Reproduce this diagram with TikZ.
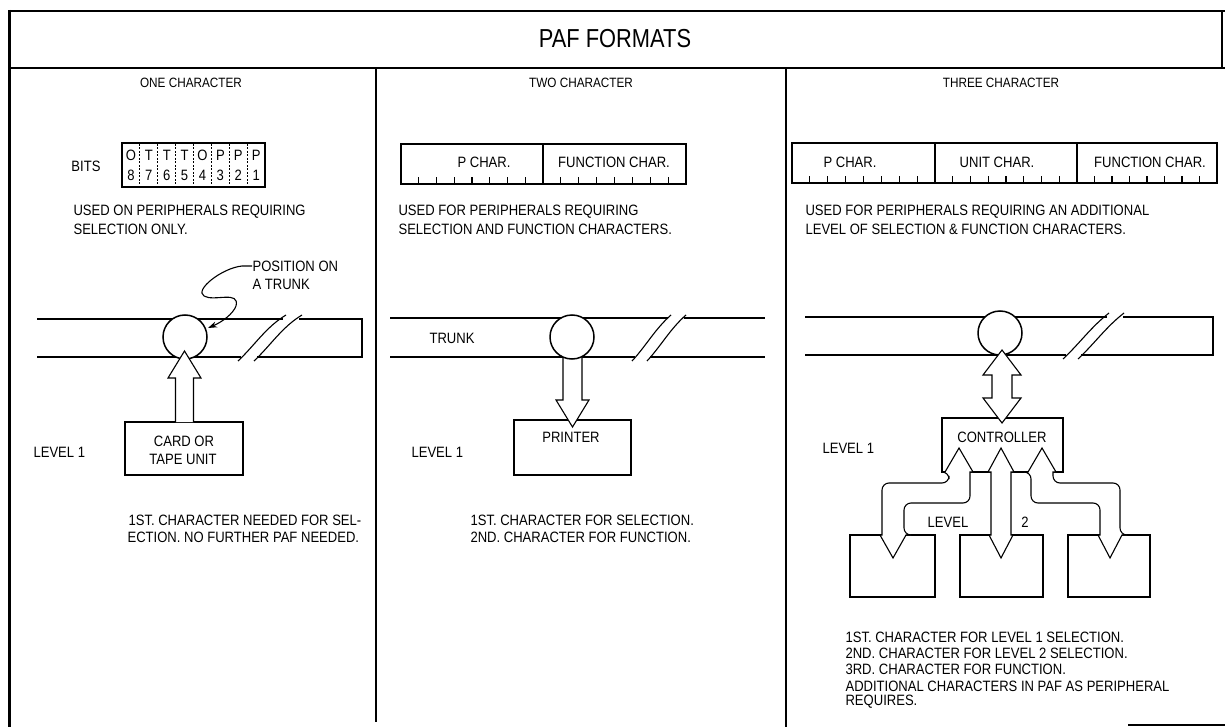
\documentclass[tikz,border=0pt]{standalone}
\usepackage{fontspec}
\setmainfont{Liberation Sans}[FakeStretch=0.87]
\newfontfamily\titlefont{Liberation Sans}[FakeStretch=0.84]
\usetikzlibrary{arrows.meta}
\begin{document}
\begin{tikzpicture}[x=1pt,y=-1pt,line width=1.1pt,
  body/.style={font=\fontsize{15}{17}\selectfont,inner sep=0pt},
  bodyw/.style={body,anchor=west},
  head/.style={font=\fontsize{13.5}{15}\selectfont,inner sep=0pt},
  bit/.style={font=\fontsize{15}{16}\selectfont,inner sep=0pt},
  ring/.style={circle,draw,fill=white,line width=1.5pt,minimum size=44pt,inner sep=0pt},
  blk/.style={draw,fill=white,line width=1.1pt},
  divd/.style={line width=0.9pt,dash pattern=on 2pt off 1.5pt},
  brk/.style={line width=1.1pt}
]
\useasboundingbox (0,0) rectangle (1225,727);
% ---------- frame ----------
\draw[line width=3pt] (9,10) -- (9,727);
\draw[line width=2pt] (8,11) -- (1225,11);
\draw[line width=1.2pt] (1222,11) -- (1222,68);
\draw[line width=1.6pt] (9,68) -- (1225,68);
\draw (376,68) -- (376,722);
\draw (786,68) -- (786,727);
\draw (1128,725) -- (1225,725);
\node[font=\titlefont\fontsize{26}{28}\selectfont,inner sep=0pt] (title) at (615,39) {PAF FORMATS};
\node[head] (h1) at (191,83) {ONE CHARACTER};
\node[head] (h2) at (581,83) {TWO CHARACTER};
\node[head] (h3) at (1001,83) {THREE CHARACTER};

% ---------- panel 1 ----------
\node[body] (bits) at (86,166) {BITS};
\draw (122,143) rectangle (265,187);
\foreach \i in {1,...,7} \draw[divd] ({122+17.875*\i},144) -- ({122+17.875*\i},186);
\foreach \i/\t/\b in {0/O/8,1/T/7,2/T/6,3/T/5,4/O/4,5/P/3,6/P/2,7/P/1}{
  \node[bit] (bt\i) at ({131+17.875*\i},155) {\t};
  \node[bit] (bb\i) at ({131+17.875*\i},175) {\b};
}
\node[bodyw] (u1a) at (73,212) {USED ON PERIPHERALS REQUIRING};
\node[bodyw] (u1b) at (73,229) {SELECTION ONLY.};
% trunk
\draw (37,319) -- (283,319);
\draw (299,319) -- (362,319) -- (362,357) -- (257,357);
\draw (241,357) -- (37,357);
\draw[brk] (238,361) .. controls (255,345) and (266,327) .. (286,315);
\draw[brk] (254,361) .. controls (271,345) and (282,327) .. (302,315);
\node[ring] (c1) at (185,337) {};
% position label + leader
\node[bodyw] (pos1) at (252,266) {POSITION ON};
\node[bodyw] (pos2) at (252,284) {A TRUNK};
\draw[-{Stealth[length=9pt,width=6pt]}] (pos1.west) -- ++(-10,0)
  .. controls (222,268) and (194,290) .. (204,296)
  .. controls (214,302) and (240,290) .. (236,306)
  .. controls (233,314) and (222,322) .. (208,328);
% box
\draw (125,422) rectangle (243,475);
\node[body] (card1) at (184,441) {CARD OR};
\node[body] (card2) at (183,459) {TAPE UNIT};
\draw[blk] (175.5,422) -- (175.5,378) -- (168,378) -- (184.5,351) -- (201,378) -- (193.5,378) -- (193.5,422);
\node[bodyw] (lv1) at (33,452) {LEVEL 1};
\node[bodyw] (n1a) at (128,520) {1ST. CHARACTER NEEDED FOR SEL-};
\node[bodyw] (n1b) at (127,537) {ECTION. NO FURTHER PAF NEEDED.};

% ---------- panel 2 ----------
\draw (401,144) rectangle (686,184);
\draw (543,144) -- (543,184);
\foreach \i in {1,...,7}{
  \draw ({401+17.75*\i},184) -- ({401+17.75*\i},177);
  \draw ({543+17.875*\i},184) -- ({543+17.875*\i},177);
}
\node[body] (pc2) at (484,162) {P CHAR.};
\node[body] (fc2) at (614,162) {FUNCTION CHAR.};
\node[bodyw] (u2a) at (398,212) {USED FOR PERIPHERALS REQUIRING};
\node[bodyw] (u2b) at (398,229) {SELECTION AND FUNCTION CHARACTERS.};
\draw (390,318) -- (668,318);
\draw (684,318) -- (765,318);
\draw (390,357) -- (635,357);
\draw (650,357) -- (765,357);
\draw[brk] (632,361) .. controls (646,346) and (655,329) .. (671,315);
\draw[brk] (647,361) .. controls (661,346) and (670,329) .. (686,315);
\node[body] (trk) at (452,338) {TRUNK};
\draw (514,420) rectangle (631,475);
\node[body] (prn) at (571,437) {PRINTER};
\draw[blk] (563,345) -- (563,400) -- (556,400) -- (572.5,427) -- (589,400) -- (582,400) -- (582,345);
\node[ring] (c2) at (572,337) {};
\node[bodyw] (lv2) at (411,452) {LEVEL 1};
\node[bodyw] (n2a) at (470,520) {1ST. CHARACTER FOR SELECTION.};
\node[bodyw] (n2b) at (470,537) {2ND. CHARACTER FOR FUNCTION.};

% ---------- panel 3 ----------
\draw (792,143) rectangle (1217,183);
\draw (935,143) -- (935,183);
\draw (1077,143) -- (1077,183);
\foreach \i in {1,...,7}{
  \draw ({792+17.875*\i},183) -- ({792+17.875*\i},176);
  \draw ({935+17.75*\i},183) -- ({935+17.75*\i},176);
  \draw ({1077+17.5*\i},183) -- ({1077+17.5*\i},176);
}
\node[body] (pc3) at (850,162) {P CHAR.};
\node[body] (uc3) at (997,162) {UNIT CHAR.};
\node[body] (fc3) at (1150,162) {FUNCTION CHAR.};
\node[bodyw] (u3a) at (805,212) {USED FOR PERIPHERALS REQUIRING AN ADDITIONAL};
\node[bodyw] (u3b) at (805,229) {LEVEL OF SELECTION \& FUNCTION CHARACTERS.};
\draw (805,317) -- (1107,317);
\draw (1123,317) -- (1213,317) -- (1213,355) -- (1081,355);
\draw (1066,355) -- (805,355);
\draw[brk] (1063,359) .. controls (1080,343) and (1091,327) .. (1109,313);
\draw[brk] (1078,359) .. controls (1095,343) and (1106,327) .. (1124,313);
\node[ring] (c3) at (1000,333) {};
% controller
\draw (942,418) rectangle (1063,472);
\node[body] (ctl) at (1002,437) {CONTROLLER};
\draw[blk] (992,375) -- (983,375) -- (1002,350) -- (1021,375) -- (1012,375)
  -- (1012,398) -- (1021,398) -- (1002,423) -- (983,398) -- (992,398) -- cycle;
\node[bodyw] (lv3) at (822,448) {LEVEL 1};
% level 2 boxes
\draw (850,535) rectangle (935,597);
\draw (960,535) rectangle (1043,597);
\draw (1068,535) rectangle (1150,597);
% left branch
\draw[blk] (959,448) -- (973,472) -- (970,472) [rounded corners=7pt] -- (970,503) -- (904,503) -- (904,535) [sharp corners]
  -- (906,535) -- (893,558) -- (880,535) -- (882,535) [rounded corners=7pt] -- (882,483) -- (949,483) -- (949,472) [sharp corners]
  -- (945,472) -- cycle;
% middle branch
\draw[blk] (1001,448) -- (1014,472) -- (1011,472) -- (1011,535) -- (1013,535) -- (1001,558) -- (989,535) -- (991,535)
  -- (991,472) -- (988,472) -- cycle;
% right branch
\draw[blk] (1042,448) -- (1056,472) -- (1053,472) [rounded corners=7pt] -- (1053,483) -- (1120,483) -- (1120,535) [sharp corners]
  -- (1122,535) -- (1110,558) -- (1098,535) -- (1100,535) [rounded corners=7pt] -- (1100,503) -- (1031,503) -- (1031,472) [sharp corners]
  -- (1028,472) -- cycle;
\node[body] (lvl2a) at (948,522) {LEVEL};
\node[body] (lvl2b) at (1025,522) {2};
\node[bodyw] (n3a) at (845,637) {1ST. CHARACTER FOR LEVEL 1 SELECTION.};
\node[bodyw] (n3b) at (845,653) {2ND. CHARACTER FOR LEVEL 2 SELECTION.};
\node[bodyw] (n3c) at (845,669) {3RD. CHARACTER FOR FUNCTION.};
\node[bodyw] (n3d) at (845,686) {ADDITIONAL CHARACTERS IN PAF AS PERIPHERAL};
\node[bodyw] (n3e) at (845,702) {REQUIRES.};
\end{tikzpicture}
\end{document}
